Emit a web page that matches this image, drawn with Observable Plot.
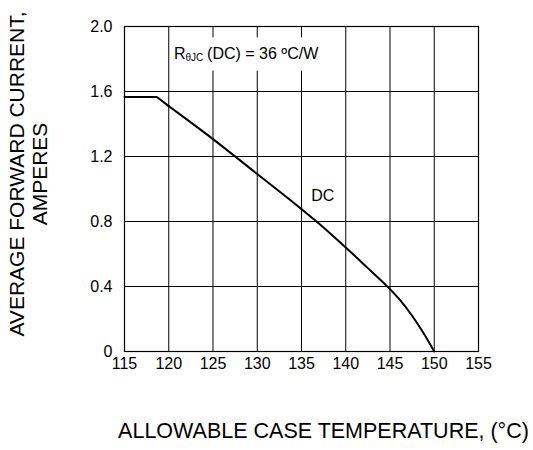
<!DOCTYPE html>
<html>
<head>
<meta charset="utf-8">
<script src="https://cdn.jsdelivr.net/npm/d3@7"></script>
<script src="https://cdn.jsdelivr.net/npm/@observablehq/plot@0.6"></script>
<style>
  html, body { margin: 0; padding: 0; background: #fff; }
</style>
</head>
<body>
<div id="chart"></div>
<script>
// Data
const temps = [115, 118.66, 120, 125, 130, 135, 136.7, 140, 142.5, 145, 146, 147.5, 148.5, 149.5, 150];
const amps  = [1.566, 1.566, 1.51, 1.307, 1.092, 0.876, 0.80, 0.64, 0.513, 0.384, 0.325, 0.22, 0.138, 0.048, 0];

const xTicks = [115, 120, 125, 130, 135, 140, 145, 150, 155];
const yTicks = [0, 0.4, 0.8, 1.2, 1.6, 2.0];
const yTickLabels = ["0", "0.4", "0.8", "1.2", "1.6", "2.0"];

const xTitle = "ALLOWABLE CASE TEMPERATURE, (°C)";
const yTitle1 = "AVERAGE FORWARD CURRENT,";
const yTitle2 = "AMPERES";
const curveLabel = {x: 137.4, y: 0.96, text: "DC"};
const note = {x: 120.6, y: 1.83, main: "R", sub: "θJC", rest: "(DC) = 36 ºC/W"};
const noteBox = {x1: 120.45, x2: 139.4, y1: 1.725, y2: 1.93};

const curve = temps.map((t, i) => ({t, a: amps[i]}));
const font = "'Liberation Sans', Arial, Helvetica, sans-serif";

const chart = Plot.plot({
  width: 533,
  height: 450,
  marginLeft: 124,
  marginRight: 55,
  marginTop: 26,
  marginBottom: 99,
  style: {fontFamily: font, background: "#fff", color: "#000"},
  x: {domain: [115, 155]},
  y: {domain: [0, 2]},
  marks: [
    Plot.ruleX(xTicks.slice(1, -1), {stroke: "#000", strokeWidth: 1}),
    Plot.ruleY(yTicks.slice(1, -1), {stroke: "#000", strokeWidth: 1}),
    Plot.frame({stroke: "#000", strokeWidth: 1.2}),
    Plot.rect([noteBox], {x1: "x1", x2: "x2", y1: "y1", y2: "y2", fill: "#fff"}),
    Plot.text([note], {x: "x", y: "y", text: "main", textAnchor: "start", fontSize: 16, fill: "#000"}),
    Plot.text([note], {x: "x", y: "y", text: "sub", textAnchor: "start", fontSize: 10, dx: 11.5, dy: 4, fill: "#000"}),
    Plot.text([note], {x: "x", y: "y", text: "rest", textAnchor: "start", fontSize: 16, dx: 33, fill: "#000"}),
    Plot.line(curve.filter((d) => d.t <= 120), {x: "t", y: "a", stroke: "#000", strokeWidth: 2}),
    Plot.line(curve.filter((d) => d.t >= 120), {x: "t", y: "a", stroke: "#000", strokeWidth: 2, curve: "monotone-x"}),
    Plot.text([curveLabel], {x: "x", y: "y", text: "text", fontSize: 16, fill: "#000"}),
    Plot.axisX(xTicks, {tickSize: 0, tickPadding: 6, fontSize: 16, label: null}),
    Plot.axisY(yTicks, {tickSize: 0, tickPadding: 12, fontSize: 16, label: null,
      tickFormat: (d) => yTickLabels[yTicks.indexOf(d)]}),
    Plot.text([xTitle], {frameAnchor: "bottom", text: (d) => d, dx: 22, dy: 86, fontSize: 21.5, fill: "#000"}),
    Plot.text([yTitle1], {frameAnchor: "left", text: (d) => d, dx: -107, dy: -15, rotate: -90, textAnchor: "middle", fontSize: 21, fill: "#000"}),
    Plot.text([yTitle2], {frameAnchor: "left", text: (d) => d, dx: -84, dy: -15, rotate: -90, textAnchor: "middle", fontSize: 21, fill: "#000"})
  ]
});
document.getElementById("chart").appendChild(chart);
</script>
</body>
</html>
